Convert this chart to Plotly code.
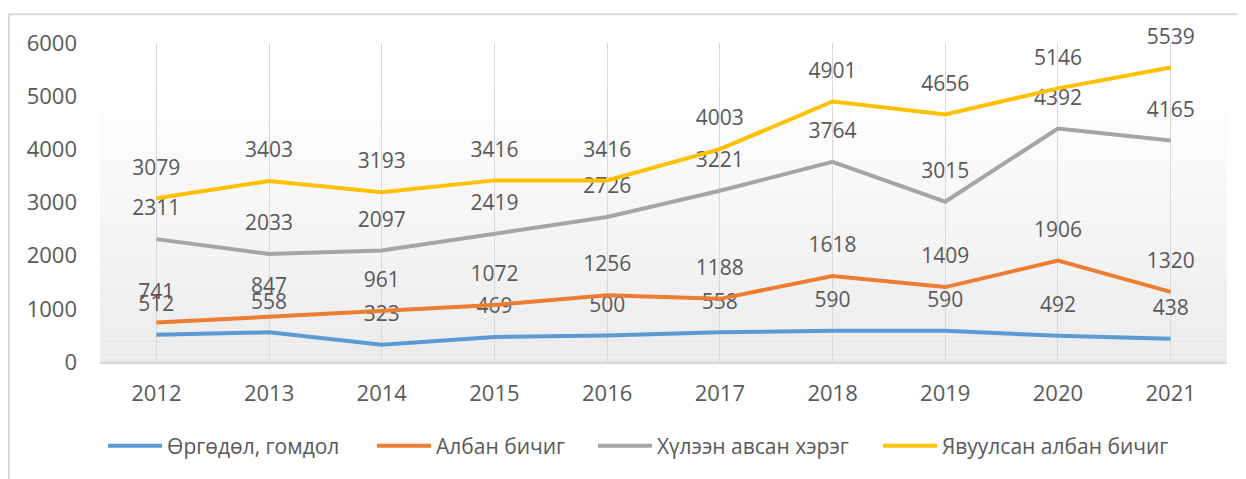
import plotly.graph_objects as go

years = ["2012", "2013", "2014", "2015", "2016", "2017", "2018", "2019", "2020", "2021"]
complaints = [512, 558, 323, 469, 500, 558, 590, 590, 492, 438]
official_letters = [741, 847, 961, 1072, 1256, 1188, 1618, 1409, 1906, 1320]
received_cases = [2311, 2033, 2097, 2419, 2726, 3221, 3764, 3015, 4392, 4165]
sent_letters = [3079, 3403, 3193, 3416, 3416, 4003, 4901, 4656, 5146, 5539]

series_names = ["Өргөдөл, гомдол", "Албан бичиг", "Хүлээн авсан хэрэг", "Явуулсан албан бичиг"]
series_values = [complaints, official_letters, received_cases, sent_letters]
series_colors = ["#5B9BD5", "#ED7D31", "#A5A5A5", "#FFC000"]

FONT = "Open Sans"
TXT = "#595959"

legend_keys = ["legend", "legend2", "legend3", "legend4"]
legend_x = [0.0027, 0.2413, 0.4374, 0.6903]

fig = go.Figure()
for name, vals, color, lk in zip(series_names, series_values, series_colors, legend_keys):
    fig.add_trace(go.Scatter(
        x=years, y=vals, name=name, legend=lk,
        mode="lines+markers+text",
        line=dict(color=color, width=4),
        marker=dict(size=28, color="rgba(0,0,0,0)"),
        text=[str(v) for v in vals],
        textposition="top center",
        textfont=dict(family=FONT, size=21, color=TXT),
        cliponaxis=False,
    ))

# gradient plot-area background
shapes = []
n = 60
top = 0.87
for i in range(n):
    y0 = top * i / n
    y1 = top * (i + 1) / n
    t = (i + 0.5) / n  # 0 bottom -> 1 top
    c = int(round(235 + (255 - 235) * t))
    shapes.append(dict(type="rect", xref="paper", yref="paper", x0=0, x1=1,
                       y0=y0, y1=y1, fillcolor=f"rgb({c},{c},{c})",
                       line=dict(width=0), layer="below"))
# outer chart border
shapes.append(dict(type="rect", xref="paper", yref="paper",
                   x0=-0.0807, x1=1.05, y0=-0.40, y1=1.090,
                   line=dict(color="#D9D9D9", width=2), layer="below"))

layout_legends = {}
for lk, lx in zip(legend_keys, legend_x):
    layout_legends[lk] = dict(
        orientation="h", x=lx, xanchor="left", y=-0.264, yanchor="middle",
        font=dict(family=FONT, size=21, color=TXT),
        itemwidth=54, bgcolor="rgba(0,0,0,0)", borderwidth=0,
    )

fig.update_layout(
    width=1238, height=471,
    margin=dict(l=92, r=19, t=35, b=114),
    paper_bgcolor="white", plot_bgcolor="white",
    font=dict(family=FONT, size=21, color=TXT),
    shapes=shapes,
    showlegend=True,
    xaxis=dict(type="category", range=[-0.5, 9.5], showgrid=True,
               gridcolor="#D9D9D9", gridwidth=1, showline=True,
               linecolor="#D9D9D9", linewidth=2, ticks="",
               tickfont=dict(family=FONT, size=22, color=TXT),
               ticklabelstandoff=11),
    yaxis=dict(range=[0, 6000], dtick=1000, showgrid=False, zeroline=False,
               showline=False, ticks="",
               tickfont=dict(family=FONT, size=22, color=TXT),
               ticklabelstandoff=22),
    **layout_legends,
)

fig.write_html("out.html")
